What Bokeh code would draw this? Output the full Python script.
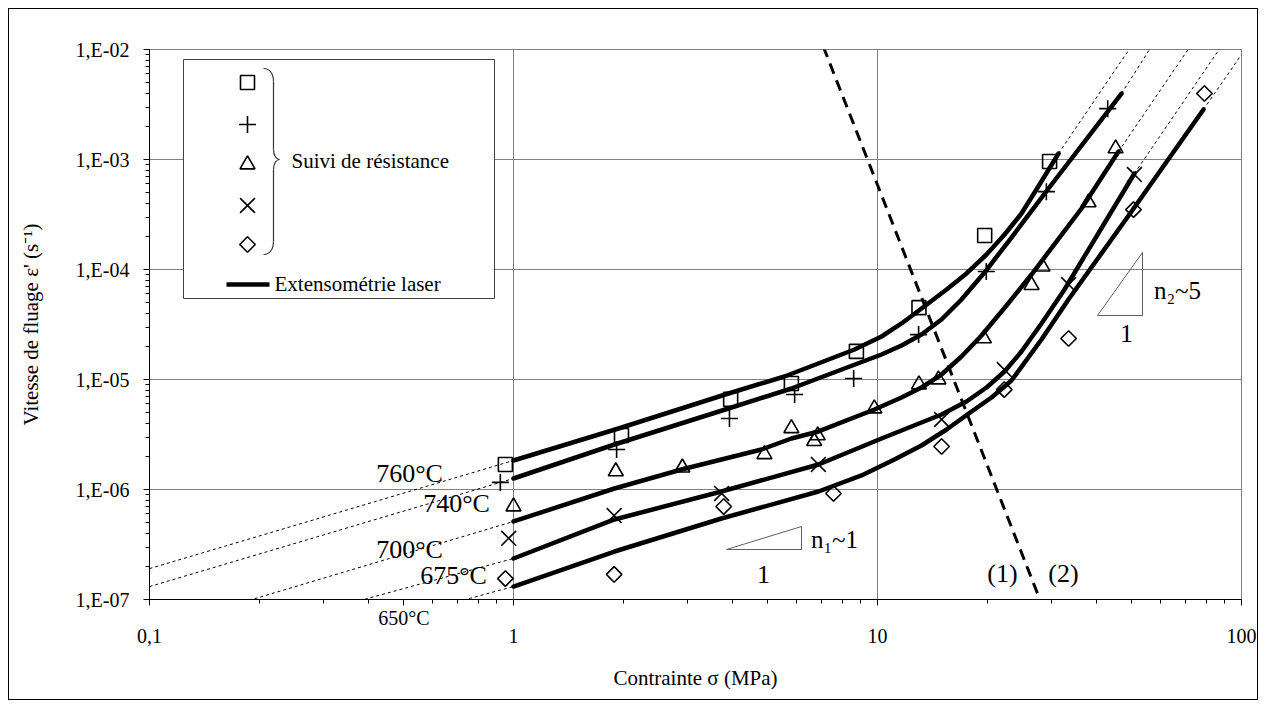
import numpy as np
from bokeh.plotting import figure
from bokeh.models import FixedTicker, Label, Range1d
from bokeh.embed import file_html
from bokeh.resources import INLINE

FONT = "Liberation Serif"

# ---------------- data ----------------
X_TICKS = [0.1, 1, 10, 100]
X_TICK_LABELS = ["0,1", "1", "10", "100"]
Y_TICKS = [1e-7, 1e-6, 1e-5, 1e-4, 1e-3, 1e-2]
Y_TICK_LABELS = ["1,E-07", "1,E-06", "1,E-05", "1,E-04", "1,E-03", "1,E-02"]

TEMPS = ["760°C", "740°C", "700°C", "675°C", "650°C"]

# resistance-tracking measurements (markers)
SIGMA_760 = [0.95, 1.98, 3.95, 5.8, 8.75, 13.0, 19.7, 29.7]
RATE_760 = [1.69e-6, 3.10e-6, 6.6e-6, 9.2e-6, 1.8e-5, 4.5e-5, 2.04e-4, 9.6e-4]

SIGMA_740 = [0.92, 1.92, 3.92, 5.92, 8.6, 12.97, 19.9, 29.1, 42.9]
RATE_740 = [1.16e-6, 2.31e-6, 4.42e-6, 7.3e-6, 1.02e-5, 2.56e-5, 9.6e-5, 5.1e-4, 2.9e-3]

SIGMA_700 = [1.0, 1.91, 2.91, 4.89, 5.8, 6.7, 6.85, 9.8, 13.0, 14.7, 19.6, 26.5, 28.4, 38.0, 45.1]
RATE_700 = [7.0e-7, 1.46e-6, 1.58e-6, 2.09e-6, 3.6e-6, 2.75e-6, 3.1e-6, 5.45e-6, 9.0e-6,
            1.0e-5, 2.36e-5, 7.2e-5, 1.06e-4, 4.07e-4, 1.26e-3]

SIGMA_675 = [0.97, 1.89, 3.73, 6.88, 15.0, 22.3, 33.5, 50.8]
RATE_675 = [3.6e-7, 5.8e-7, 9.2e-7, 1.69e-6, 4.33e-6, 1.23e-5, 7.3e-5, 7.3e-4]

SIGMA_650 = [0.95, 1.89, 3.78, 7.57, 15.0, 22.3, 33.5, 50.5, 79.1]
RATE_650 = [1.55e-7, 1.69e-7, 7.0e-7, 9.2e-7, 2.46e-6, 8.1e-6, 2.36e-5, 3.5e-4, 3.98e-3]

# laser extensometry curves (thick solid lines)
FIT_760_S = [1.0, 1.943, 3.896, 5.553, 8.648, 10.26, 11.64, 13.21, 15.48, 17.56, 19.93, 22.34, 24.86, 27.87, 31.43]
FIT_760_R = [1.835e-6, 3.585e-6, 7.46e-6, 1.065e-5, 1.874e-5, 2.46e-5, 3.23e-5, 4.42e-5, 6.58e-5,
             9.2e-5, 1.369e-4, 2.08e-4, 3.23e-4, 5.92e-4, 1.134e-3]

FIT_740_S = [1.0, 1.894, 3.896, 5.803, 10.26, 11.64, 13.21, 14.99, 17.01, 19.68, 23.34, 29.50, 46.81]
FIT_740_R = [1.259e-6, 2.565e-6, 5.45e-6, 8.28e-6, 1.688e-5, 2.037e-5, 2.565e-5, 3.51e-5, 5.34e-5,
             9.39e-5, 1.953e-4, 5.45e-4, 3.98e-3]

FIT_700_S = [1.0, 1.894, 2.894, 4.801, 5.803, 6.885, 9.81, 11.64, 13.21, 14.99, 17.01, 19.31, 22.62,
             26.49, 36.35, 45.93]
FIT_700_R = [5.12e-7, 1.021e-6, 1.52e-6, 2.31e-6, 2.909e-6, 3.37e-6, 5.34e-6, 6.86e-6, 8.46e-6,
             1.11e-5, 1.618e-5, 2.51e-5, 4.71e-5, 9.0e-5, 3.585e-4, 1.182e-3]

FIT_675_S = [1.0, 1.894, 3.727, 6.885, 10.26, 14.99, 17.56, 19.93, 22.34, 24.86, 28.22, 32.64, 50.8]
FIT_675_R = [2.36e-7, 5.34e-7, 9.59e-7, 1.688e-6, 2.909e-6, 4.81e-6, 6.31e-6, 8.46e-6, 1.182e-5,
             1.796e-5, 3.23e-5, 6.58e-5, 7.46e-4]

FIT_650_S = [1.0, 1.894, 3.727, 6.885, 9.04, 11.13, 13.21, 15.48, 18.13, 20.57, 23.34, 28.22, 33.47,
             49.87, 78.63]
FIT_650_R = [1.312e-7, 2.73e-7, 5.45e-7, 9.59e-7, 1.341e-6, 1.874e-6, 2.512e-6, 3.51e-6, 5.12e-6,
             6.86e-6, 9.79e-6, 2.31e-5, 5.34e-5, 3.37e-4, 2.85e-3]

# extrapolations (thin dotted lines): low-stress and high-stress ends
EXT_LOW_S = [[0.1, 1.0], [0.1, 1.0], [0.168, 1.0], [0.337, 1.0], [0.584, 1.0]]
EXT_LOW_R = [[1.91e-7, 1.835e-6], [1.31e-7, 1.259e-6], [8.8e-8, 5.12e-7], [8.8e-8, 2.36e-7], [8.1e-8, 1.312e-7]]
EXT_HIGH_S = [[31.43, 50.8], [46.81, 57.7], [45.93, 73.8], [50.8, 89.8], [78.63, 100.0]]
EXT_HIGH_R = [[1.134e-3, 1.18e-2], [3.98e-3, 1.18e-2], [1.182e-3, 1.18e-2], [7.46e-4, 1.18e-2], [2.85e-3, 9.0e-3]]

# mechanism boundary (thick dashed line)
BOUNDARY_S = [7.1, 28.2]
BOUNDARY_R = [1.06e-2, 9.2e-8]

# ---------------- figure ----------------
FX0, FX1, FY0, FY1 = 148, 1240, 48, 598  # frame extent in page pixels
W, H = 1250, 692


def dx(px):
    return 10 ** (-1 + 3 * (px - FX0) / (FX1 - FX0))


def dy(py):
    return 10 ** (-2 - 5 * (py - FY0) / (FY1 - FY0))


p = figure(width=W, height=H, x_axis_type="log", y_axis_type="log",
           x_range=Range1d(0.1, 100), y_range=Range1d(1e-7, 1e-2),
           output_backend="svg", toolbar_location=None,
           min_border_left=140, min_border_right=18, min_border_top=40, min_border_bottom=102)
p.margin = (8, 8, 8, 8)
p.styles = {"border": "1px solid black"}
p.background_fill_color = "white"
p.border_fill_color = "white"
p.outline_line_color = "#808080"
p.outline_line_width = 1

minor_x = [m * 10.0 ** k for k in (-1, 0, 1) for m in range(2, 10)]
minor_y = [m * 10.0 ** k for k in (-7, -6, -5, -4, -3) for m in range(2, 10)]

# the 650°C isotherm label sits just under the x axis, above the tick-label row:
# it is carried by the axis as an extra labelled position at 0.5 (a minor-tick place)
T650_POS = 0.5
x_label_map = {t: "\n" + s for t, s in zip(X_TICKS, X_TICK_LABELS)}
x_label_map[T650_POS] = TEMPS[4]
p.xaxis.ticker = FixedTicker(ticks=sorted(X_TICKS + [T650_POS]),
                             minor_ticks=[m for m in minor_x if m != T650_POS])
p.xaxis.major_label_overrides = x_label_map
p.yaxis.ticker = FixedTicker(ticks=Y_TICKS, minor_ticks=minor_y)
p.yaxis.major_label_overrides = dict(zip(Y_TICKS, Y_TICK_LABELS))
p.xgrid.ticker = FixedTicker(ticks=X_TICKS)
p.ygrid.ticker = FixedTicker(ticks=Y_TICKS)

for ax in (p.xaxis, p.yaxis):
    ax.axis_line_color = "black"
    ax.major_tick_line_color = "black"
    ax.minor_tick_line_color = "black"
    ax.major_tick_out = 6
    ax.major_tick_in = 0
    ax.minor_tick_out = 4
    ax.minor_tick_in = 0
    ax.major_label_text_font = FONT
    ax.major_label_text_font_size = "20px"
    ax.major_label_text_color = "black"
    ax.axis_label_text_font = FONT
    ax.axis_label_text_font_size = "21px"
    ax.axis_label_text_font_style = "normal"
    ax.axis_label_text_color = "black"

p.xaxis.major_label_text_line_height = 0.85
p.xaxis.axis_label = "Contrainte σ (MPa)"
p.yaxis.axis_label = "Vitesse de fluage ε' (s⁻¹)"
p.xaxis.major_label_standoff = 1
p.xaxis.axis_label_standoff = 16
p.yaxis.major_label_standoff = 14
p.yaxis.axis_label_standoff = 30

p.xgrid.grid_line_color = "#808080"
p.ygrid.grid_line_color = "#808080"

# dotted extrapolations
for s, r in zip(EXT_LOW_S + EXT_HIGH_S, EXT_LOW_R + EXT_HIGH_R):
    p.line(s, r, line_color="black", line_width=1, line_dash="3 3")

# boundary
p.line(BOUNDARY_S, BOUNDARY_R, line_color="black", line_width=3, line_dash="11 7")

# solid fits
for s, r in [(FIT_760_S, FIT_760_R), (FIT_740_S, FIT_740_R), (FIT_700_S, FIT_700_R),
             (FIT_675_S, FIT_675_R), (FIT_650_S, FIT_650_R)]:
    p.line(s, r, line_color="black", line_width=4.5, line_join="round", line_cap="round")

# markers
STYLES = [dict(marker="square", size=14, angle=0.0),
          dict(marker="cross", size=17, angle=0.0),
          dict(marker="triangle", size=15, angle=0.0),
          dict(marker="x", size=21, angle=0.0),
          dict(marker="square", size=11, angle=np.pi / 4)]
SERIES = [(SIGMA_760, RATE_760), (SIGMA_740, RATE_740), (SIGMA_700, RATE_700),
          (SIGMA_675, RATE_675), (SIGMA_650, RATE_650)]
for (s, r), st in zip(SERIES, STYLES):
    p.scatter(s, r, fill_alpha=0, line_color="black", line_width=1.6, **st)

# ---------------- legend (custom box with brace) ----------------
p.quad(left=[dx(182)], right=[dx(493)], top=[dy(58)], bottom=[dy(297)],
       fill_color="white", line_color="#404040", line_width=1)
for py, st in zip([81, 123, 163, 204, 243], STYLES):
    p.scatter([dx(246)], [dy(py)], fill_alpha=0, line_color="black", line_width=1.6, **st)
# brace
p.bezier(x0=[dx(262), dx(272), dx(278), dx(272)], y0=[dy(67), dy(148), dy(158), dy(240)],
         x1=[dx(272), dx(278), dx(272), dx(262)], y1=[dy(80), dy(158), dy(168), dy(253)],
         cx0=[dx(268), dx(272), dx(275), dx(272)], cy0=[dy(67), dy(154), dy(158), dy(248)],
         cx1=[dx(272), dx(275), dx(272), dx(268)], cy1=[dy(72), dy(158), dy(162), dy(253)],
         line_color="#333333", line_width=1.2)
p.segment(x0=[dx(272), dx(272)], y0=[dy(80), dy(168)], x1=[dx(272), dx(272)], y1=[dy(148), dy(240)],
          line_color="#333333", line_width=1.2)
p.line([dx(225), dx(268)], [dy(283), dy(283)], line_color="black", line_width=4.5)


def label(px, py, text, size="26px", align="center"):
    p.add_layout(Label(x=dx(px), y=dy(py), text=text, text_font=FONT, text_font_size=size,
                       text_align=align, text_baseline="middle", text_color="black"))


label(290, 159, "Suivi de résistance", size="21px", align="left")
label(273, 282, "Extensométrie laser", size="21px", align="left")

# temperature labels (inside the frame)
for (px, py), t in zip([(408, 472), (455, 502), (408, 548), (452, 574)], TEMPS[:4]):
    label(px, py, t)

label(1001, 572, "(1)")
label(1062, 572, "(2)")

# slope triangles
p.patch([dx(725), dx(800), dx(800)], [dy(548), dy(525), dy(548)],
        fill_alpha=0, line_color="#606060", line_width=1)
p.patch([dx(1096), dx(1141), dx(1141)], [dy(314), dy(251), dy(314)],
        fill_alpha=0, line_color="#606060", line_width=1)
label(833, 538, "n₁~1", size="25px")
label(762, 573, "1")
label(1176, 289, "n₂~5", size="25px")
label(1125, 332, "1")

open("out.html", "w").write(file_html(p, INLINE))
